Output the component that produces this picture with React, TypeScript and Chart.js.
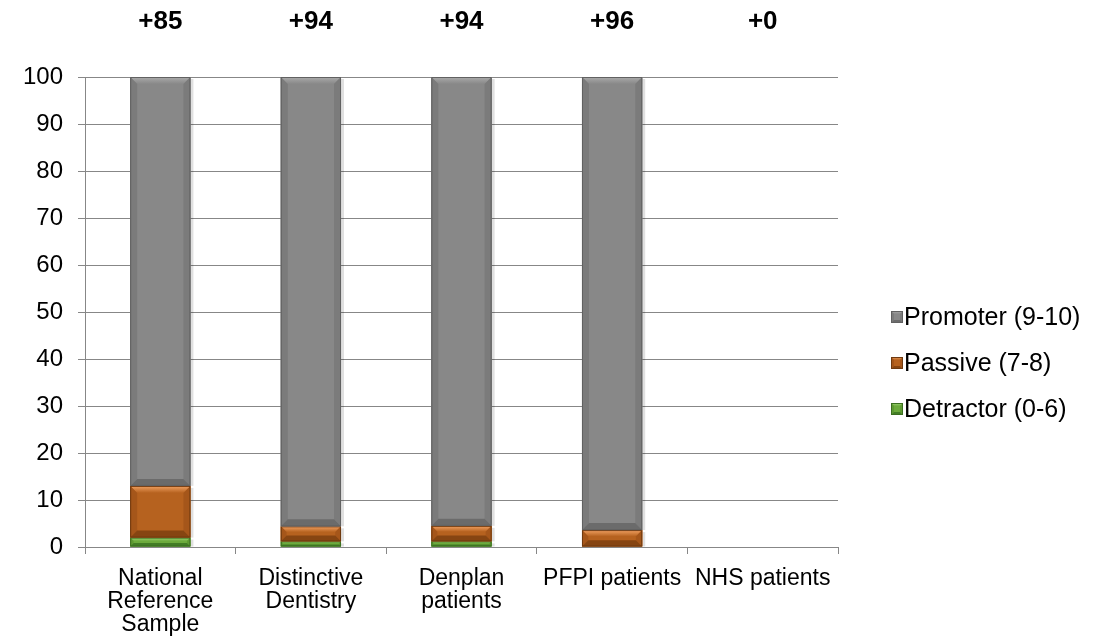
import React, { useEffect, useRef } from "react";
import { Chart, registerables } from "chart.js";

Chart.register(...registerables);

// Net Promoter Score breakdown per patient group (percent of respondents)
const categories: (string | string[])[] = [
  ["National", "Reference", "Sample"],
  ["Distinctive", "Dentistry"],
  ["Denplan", "patients"],
  "PFPI patients",
  "NHS patients",
];
const detractor = [2, 1.2, 1.2, 0, 0];
const passive = [11, 3.2, 3.3, 3.6, 0];
const promoter = [87, 95.6, 95.5, 96.4, 0];

const seriesNames = ["Detractor (0-6)", "Passive (7-8)", "Promoter (9-10)"];
const yTicks = [0, 10, 20, 30, 40, 50, 60, 70, 80, 90, 100];

// NPS = promoters minus detractors
const npsLabels = promoter.map((p, i) => {
  const v = Math.round(p - detractor[i]);
  return (v >= 0 ? "+" : "") + v;
});

type Shade = { fill: string; light: string; side: string; dark: string; line: string };
const shades: Shade[] = [
  { fill: "#6cab3c", light: "#a6d97e", side: "#5e9a32", dark: "#427d25", line: "#3b6e20" },
  { fill: "#b6621f", light: "#f2a263", side: "#a5561a", dark: "#864512", line: "#6f3a10" },
  { fill: "#888888", light: "#ababab", side: "#7b7b7b", dark: "#6b6b6b", line: "#616161" },
];

function bevelRect(ctx: CanvasRenderingContext2D, l: number, t: number, r: number, b: number, s: Shade, maxBevel: number) {
  const w = r - l;
  const h = b - t;
  if (h < 0.5 || w < 0.5) return;
  const bv = Math.max(1, Math.min(maxBevel, h / 2.6, w / 4));
  ctx.save();
  ctx.fillStyle = s.fill;
  ctx.fillRect(l, t, w, h);
  // top facet
  const g = ctx.createLinearGradient(0, t, 0, t + bv);
  g.addColorStop(0, s.light);
  g.addColorStop(1, s.fill);
  ctx.fillStyle = g;
  ctx.beginPath();
  ctx.moveTo(l, t);
  ctx.lineTo(r, t);
  ctx.lineTo(r - bv, t + bv);
  ctx.lineTo(l + bv, t + bv);
  ctx.closePath();
  ctx.fill();
  // side facets
  ctx.fillStyle = s.side;
  ctx.beginPath();
  ctx.moveTo(l, t);
  ctx.lineTo(l + bv, t + bv);
  ctx.lineTo(l + bv, b - bv);
  ctx.lineTo(l, b);
  ctx.closePath();
  ctx.fill();
  ctx.beginPath();
  ctx.moveTo(r, t);
  ctx.lineTo(r - bv, t + bv);
  ctx.lineTo(r - bv, b - bv);
  ctx.lineTo(r, b);
  ctx.closePath();
  ctx.fill();
  // bottom facet
  ctx.fillStyle = s.dark;
  ctx.beginPath();
  ctx.moveTo(l, b);
  ctx.lineTo(r, b);
  ctx.lineTo(r - bv, b - bv);
  ctx.lineTo(l + bv, b - bv);
  ctx.closePath();
  ctx.fill();
  ctx.strokeStyle = s.line;
  ctx.lineWidth = 1;
  ctx.strokeRect(l + 0.5, t + 0.5, w - 1, h - 1);
  ctx.restore();
}

const bevelPlugin = {
  id: "bevelBars",
  beforeDatasetsDraw(chart: any) {
    const ctx: CanvasRenderingContext2D = chart.ctx;
    ctx.save();
    chart.data.datasets.forEach((_: any, di: number) => {
      const meta = chart.getDatasetMeta(di);
      meta.data.forEach((el: any) => {
        const top = Math.min(el.y, el.base);
        const bot = Math.max(el.y, el.base);
        if (bot - top < 0.5) return;
        ctx.fillStyle = "rgba(0,0,0,0.12)";
        ctx.fillRect(el.x + el.width / 2, top + 2, 3, bot - top - 2);
      });
    });
    ctx.restore();
  },
  afterDatasetsDraw(chart: any) {
    const ctx: CanvasRenderingContext2D = chart.ctx;
    chart.data.datasets.forEach((_: any, di: number) => {
      const meta = chart.getDatasetMeta(di);
      meta.data.forEach((el: any) => {
        const top = Math.min(el.y, el.base);
        const bot = Math.max(el.y, el.base);
        bevelRect(ctx, el.x - el.width / 2, top, el.x + el.width / 2, bot, shades[di], 7);
      });
    });
  },
};

const overlayPlugin = {
  id: "npsAndLegend",
  afterDraw(chart: any) {
    const ctx: CanvasRenderingContext2D = chart.ctx;
    const xs = chart.scales.x;
    ctx.save();
    // NPS score above each column
    ctx.fillStyle = "#000";
    ctx.font = "bold 26px Arial, 'Liberation Sans', sans-serif";
    ctx.textAlign = "center";
    ctx.textBaseline = "middle";
    npsLabels.forEach((lab, i) => {
      ctx.fillText(lab, xs.getPixelForValue(i), 22);
    });
    // legend, top item is the last series
    ctx.font = "25px Arial, 'Liberation Sans', sans-serif";
    ctx.textAlign = "left";
    const order = [2, 1, 0];
    order.forEach((si, k) => {
      const cy = 317 + k * 46;
      bevelRect(ctx, 891, cy - 6, 903, cy + 6, shades[si], 3);
      ctx.fillStyle = "#000";
      ctx.fillText(seriesNames[si], 904, cy + 1);
    });
    ctx.restore();
  },
};

export default function App() {
  const ref = useRef<HTMLCanvasElement | null>(null);

  useEffect(() => {
    document.body.style.margin = "0";
    const canvas = ref.current;
    if (!canvas) return;
    const gridColor = "#878787";
    const tickFont = { family: "Arial, 'Liberation Sans', sans-serif", size: 23, lineHeight: 1.0 };
    const chart = new Chart(canvas, {
      type: "bar",
      data: {
        labels: categories,
        datasets: [detractor, passive, promoter].map((d, i) => ({
          label: seriesNames[i],
          data: d,
          backgroundColor: shades[i].fill,
          borderWidth: 0,
          barPercentage: 0.4,
          categoryPercentage: 1,
        })),
      },
      options: {
        responsive: false,
        animation: false,
        layout: { padding: { top: 77, right: 256, bottom: 0, left: 0 } },
        plugins: { legend: { display: false }, tooltip: { enabled: false }, title: { display: false } },
        scales: {
          x: {
            stacked: true,
            grid: { offset: true, drawOnChartArea: false, drawTicks: true, tickLength: 7, color: gridColor },
            border: { color: gridColor },
            ticks: { color: "#000", font: tickFont, padding: 13, maxRotation: 0, autoSkip: false },
            afterFit: (s: any) => {
              s.height = 96;
            },
          },
          y: {
            stacked: true,
            min: 0,
            max: 100,
            afterBuildTicks: (s: any) => {
              s.ticks = yTicks.map((v) => ({ value: v }));
            },
            grid: { color: gridColor, tickLength: 7 },
            border: { color: gridColor },
            ticks: { color: "#000", font: { family: tickFont.family, size: 24 }, padding: 15 },
            afterFit: (s: any) => {
              s.width = 85;
            },
          },
        },
      },
      plugins: [bevelPlugin, overlayPlugin],
    });
    return () => chart.destroy();
  }, []);

  return <canvas ref={ref} width={1094} height={643} style={{ display: "block" }} />;
}
